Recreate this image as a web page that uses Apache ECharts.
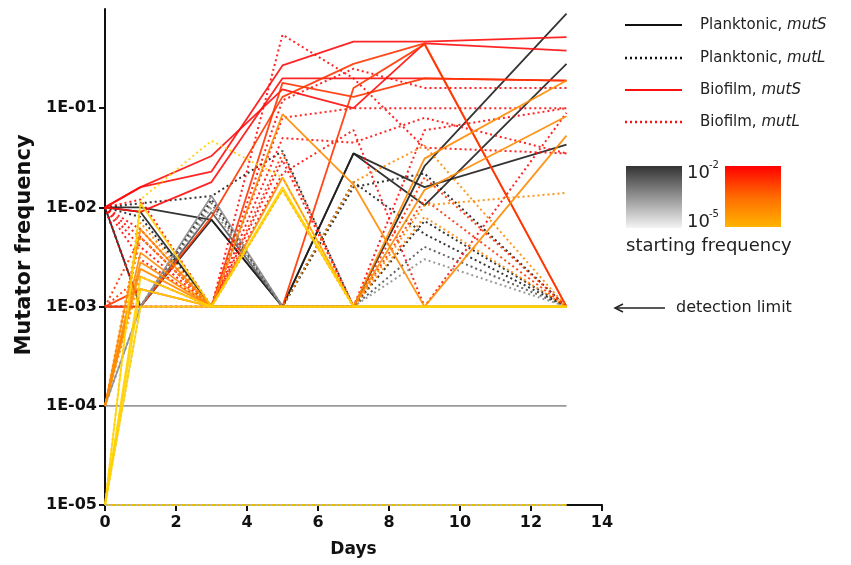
<!DOCTYPE html>
<html><head><meta charset="utf-8">
<script src="https://cdn.jsdelivr.net/npm/echarts@6/dist/echarts.min.js"></script>
<style>html,body{margin:0;padding:0;background:#fff}#c{width:851px;height:565px}</style>
</head><body><div id="c"></div>
<script>
// sampling days
const days = [0, 1, 3, 5, 7, 9, 13];

// Planktonic, mutS (solid, grey scale by starting frequency)
const planktonicMutS = [
  [1e-2, 1e-2, 7.5e-3, 1e-3, 3.5e-2, 1.6e-2, 4.3e-2],
  [1e-2, 1e-3, 7.5e-3, 1e-3, 3.5e-2, 1.05e-2, 2.8e-1],
  [1e-2, 9e-3, 1e-3, 1e-3, 1e-3, 2.6e-2, 9e-1],
  [1e-3, 1e-3, 9e-3, 1e-3, 1e-3, 1e-3, 1e-3],
  [1e-4, 1e-3, 1.3e-2, 1e-3, 1e-3, 1e-3, 1e-3],
  [1e-4, 1e-4, 1e-4, 1e-4, 1e-4, 1e-4, 1e-4]
];
// Planktonic, mutL (dotted)
const planktonicMutL = [
  [1e-2, 1.1e-2, 1.3e-2, 3.7e-2, 1e-3, 7.3e-3, 1e-3],
  [1e-2, 1e-3, 1.2e-2, 1e-3, 1.8e-2, 5.4e-3, 1e-3],
  [1e-2, 8e-3, 1e-3, 1e-3, 1.6e-2, 2.2e-2, 1e-3],
  [1e-3, 1e-3, 1.1e-2, 1e-3, 1e-3, 4e-3, 1e-3],
  [1e-4, 1e-3, 1e-2, 1e-3, 1e-3, 3e-3, 1e-3],
  [1e-5, 1e-3, 1e-3, 1e-3, 1e-3, 1e-3, 1e-3]
];
// Biofilm, mutS (solid, red-yellow scale by starting frequency)
const biofilmMutS = [
  [1e-2, 1.6e-2, 2.3e-2, 2.7e-1, 4.7e-1, 4.7e-1, 5.2e-1],
  [1e-2, 9e-3, 1.8e-2, 2e-1, 2e-1, 2e-1, 1.9e-1],
  [1e-2, 1.6e-2, 3.3e-2, 1.55e-1, 1e-1, 4.5e-1, 3.8e-1],
  [1e-3, 1e-3, 8e-3, 1.3e-1, 2.8e-1, 4.5e-1, 1e-3],
  [1e-3, 1.5e-3, 1e-3, 1e-3, 1.6e-1, 4.4e-1, 1e-3],
  [1e-3, 1e-3, 1e-3, 1.8e-1, 1.3e-1, 2e-1, 1.9e-1],
  [1e-4, 6e-3, 1e-3, 8.7e-2, 1.7e-2, 1e-3, 5.3e-2],
  [1e-4, 3.5e-3, 1e-3, 2e-2, 1e-3, 3.1e-2, 1.9e-1],
  [1e-4, 2.8e-3, 1e-3, 1e-3, 1e-3, 1.5e-2, 8.3e-2],
  [1e-4, 2.4e-3, 1e-3, 1e-3, 1e-3, 1e-3, 1e-3],
  [1e-5, 1.1e-2, 1e-3, 1.6e-2, 1e-3, 1e-3, 1e-3],
  [1e-5, 2e-3, 1e-3, 1.5e-2, 1e-3, 1e-3, 1e-3],
  [1e-5, 1.5e-3, 1e-3, 1e-3, 1e-3, 1e-3, 1e-3],
  [1e-5, 1e-3, 1e-3, 1e-3, 1e-3, 1e-3, 1e-3],
  [1e-5, 1e-5, 1e-5, 1e-5, 1e-5, 1e-5, 1e-5]
];
// Biofilm, mutL (dotted)
const biofilmMutL = [
  [1e-2, 1e-3, 1e-3, 5.5e-1, 2e-1, 4e-2, 3.5e-2],
  [1e-2, 5e-3, 1e-3, 1.2e-1, 2.5e-1, 1.6e-1, 1.6e-1],
  [1e-2, 4e-3, 1e-3, 8e-2, 1e-1, 1e-1, 1e-1],
  [1e-2, 3e-3, 1e-3, 5e-2, 4.5e-2, 8e-2, 3.5e-2],
  [1e-2, 1.2e-2, 1e-3, 3e-2, 1e-3, 6e-2, 1e-1],
  [1e-2, 6e-3, 1e-3, 2.2e-2, 6e-2, 1e-3, 9e-2],
  [1e-3, 2e-3, 1e-3, 1.5e-2, 1e-3, 1.2e-2, 1e-3],
  [1e-3, 5e-3, 1e-3, 3.5e-2, 1e-3, 2e-2, 1e-3],
  [1e-4, 5e-3, 1e-3, 1e-3, 1.8e-2, 4.2e-2, 1e-3],
  [1e-4, 2e-3, 1e-3, 1e-3, 1e-3, 1.05e-2, 1.4e-2],
  [1e-4, 7e-3, 1e-3, 1e-3, 1e-3, 8e-3, 1e-3],
  [1e-5, 1.2e-2, 4.7e-2, 2e-2, 1e-3, 1e-3, 1e-3]
];
const planktonicBottom = [[1e-5, 1e-5, 1e-5, 1e-5, 1e-5, 1e-5, 1e-5]];

const yTickValues = [1e-5, 1e-4, 1e-3, 1e-2, 1e-1];
const legendLabels = [['Planktonic, ', 'mutS'], ['Planktonic, ', 'mutL'], ['Biofilm, ', 'mutS'], ['Biofilm, ', 'mutL']];

const FONT = 'DejaVu Sans';
const greyScale = { 2: '#1e1e1e', 3: '#555555', 4: '#8e8e8e', 5: '#b4b4b4' };
const warmScale = { 2: '#ff0d0d', 3: '#ff3500', 4: '#ff8a00', 5: '#ffd200' };
function colorFor(habitat, start) {
  const e = Math.round(-Math.log10(start));
  return habitat === 'p' ? greyScale[e] : warmScale[e];
}
function mk(group, habitat, dotted) {
  return group.map(vals => ({
    type: 'line', symbol: 'none', silent: true, animation: false,
    _start: vals[0],
    data: days.map((d, i) => [d, vals[i]]),
    lineStyle: { color: colorFor(habitat, vals[0]), width: dotted ? 2 : 1.8, type: dotted ? [2, 3] : 'solid', opacity: 0.9 }
  }));
}
let series = [].concat(
  mk(planktonicMutS, 'p', false), mk(planktonicMutL, 'p', true),
  mk(biofilmMutL, 'b', true), mk(biofilmMutS, 'b', false)
);
// draw higher starting frequencies first so yellow lies on top
series.sort((a, b) => b._start - a._start);
series = series.concat(mk(planktonicBottom, 'p', true));
series.forEach(s => { delete s._start; });

const legendGraphics = [];
const lgY = [25, 58, 90, 122];
legendLabels.forEach((l, i) => {
  const col = i < 2 ? '#111' : '#ff1010';
  legendGraphics.push({ type: 'line', shape: { x1: 625, y1: lgY[i], x2: 682, y2: lgY[i] },
    style: { stroke: col, lineWidth: i % 2 ? 2.5 : 2, lineDash: i % 2 ? [2, 3] : null } });
  legendGraphics.push({ type: 'text', x: 700, y: lgY[i], style: {
    text: '{n|' + l[0] + '}{i|' + l[1] + '}', verticalAlign: 'middle',
    rich: { n: { fontFamily: FONT, fontSize: 15, fill: '#222' }, i: { fontFamily: FONT, fontSize: 15, fontStyle: 'italic', fill: '#222' } } } });
});
legendGraphics.push(
  { type: 'rect', shape: { x: 626, y: 166, width: 56, height: 62 },
    style: { fill: { type: 'linear', x: 0, y: 0, x2: 0, y2: 1, colorStops: [{ offset: 0, color: '#333333' }, { offset: 1, color: '#f4f4f4' }] } } },
  { type: 'rect', shape: { x: 725, y: 166, width: 56, height: 61 },
    style: { fill: { type: 'linear', x: 0, y: 0, x2: 0, y2: 1, colorStops: [{ offset: 0, color: '#ff0000' }, { offset: 0.5, color: '#ff6a00' }, { offset: 1, color: '#ffb400' }] } } },
  { type: 'text', x: 687, y: 173, style: { text: '10', fontFamily: FONT, fontSize: 18, fill: '#222', verticalAlign: 'middle' } },
  { type: 'text', x: 709, y: 165, style: { text: '-2', fontFamily: FONT, fontSize: 10, fill: '#222', verticalAlign: 'middle' } },
  { type: 'text', x: 687, y: 222, style: { text: '10', fontFamily: FONT, fontSize: 18, fill: '#222', verticalAlign: 'middle' } },
  { type: 'text', x: 709, y: 214, style: { text: '-5', fontFamily: FONT, fontSize: 10, fill: '#222', verticalAlign: 'middle' } },
  { type: 'text', x: 626, y: 246, style: { text: 'starting frequency', fontFamily: FONT, fontSize: 18, fill: '#222', verticalAlign: 'middle' } },
  { type: 'line', shape: { x1: 615, y1: 308, x2: 665, y2: 308 }, style: { stroke: '#222', lineWidth: 1.5 } },
  { type: 'polyline', shape: { points: [[623, 304], [615, 308], [623, 312]] }, style: { stroke: '#222', lineWidth: 1.5, fill: null } },
  { type: 'text', x: 676, y: 308, style: { text: 'detection limit', fontFamily: FONT, fontSize: 16, fill: '#222', verticalAlign: 'middle' } }
);

const chart = echarts.init(document.getElementById('c'), null, { renderer: 'canvas' });
chart.setOption({
  animation: false,
  backgroundColor: '#fff',
  grid: { left: 105, right: 249, top: 9, bottom: 60, containLabel: false },
  xAxis: {
    type: 'value', min: 0, max: 14, interval: 2,
    name: 'Days', nameLocation: 'middle', nameGap: 36,
    nameTextStyle: { fontFamily: FONT, fontWeight: 'bold', fontSize: 17, color: '#111' },
    axisLine: { lineStyle: { color: '#111', width: 2 } },
    axisTick: { length: 6, lineStyle: { color: '#111', width: 2 } },
    axisLabel: { fontFamily: FONT, fontWeight: 'bold', fontSize: 16, color: '#111', margin: 10 },
    splitLine: { show: false }
  },
  yAxis: {
    type: 'log', logBase: 10, min: 1e-5, max: 1,
    name: 'Mutator frequency', nameLocation: 'middle', nameRotate: 90, nameGap: 70,
    nameTextStyle: { fontFamily: FONT, fontWeight: 'bold', fontSize: 21, color: '#111', padding: [0, 0, 0, 24] },
    axisLine: { lineStyle: { color: '#111', width: 2 } },
    axisTick: { length: 6, lineStyle: { color: '#111', width: 2 }, customValues: yTickValues },
    axisLabel: { fontFamily: FONT, fontWeight: 'bold', fontSize: 16, color: '#111', margin: 8, customValues: yTickValues,
      formatter: v => { const e = Math.round(-Math.log10(v)); return e <= 0 ? '' : '1E-0' + e; } },
    splitLine: { show: false }
  },
  series: series,
  graphic: legendGraphics
});
</script></body></html>
